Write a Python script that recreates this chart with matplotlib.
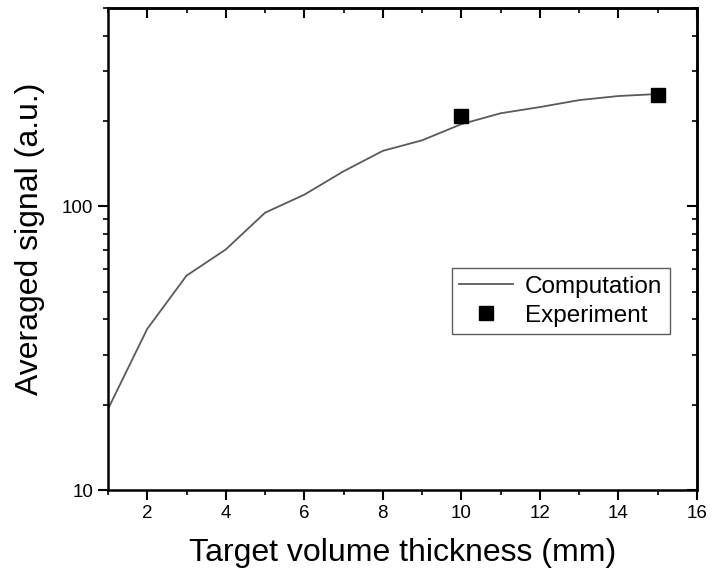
import matplotlib
matplotlib.use("Agg")
import matplotlib.pyplot as plt
from matplotlib.ticker import LogLocator, FixedLocator, NullFormatter, FuncFormatter

plt.rcParams['font.family'] = ['Liberation Sans', 'DejaVu Sans']

thickness = [1, 2, 3, 4, 5, 6, 7, 8, 9, 10, 11, 12, 13, 14, 15]
computation = [19.3, 37, 57, 70.5, 95, 110, 133, 157, 171, 195, 213, 224, 237, 245, 249]
exp_thickness = [10, 15]
experiment = [209, 248]

fig = plt.figure(figsize=(7.2, 5.83), dpi=100)
ax = fig.add_axes([0.15, 0.1595, 0.818, 0.8265])

ax.plot(thickness, computation, color='#5a5a5a', lw=1.3, label='Computation')
ax.plot(exp_thickness, experiment, 's', color='black', ms=9.5, ls='none', label='Experiment')

ax.set_yscale('log')
ax.set_xlim(1, 16)
ax.set_ylim(10, 500)

ax.xaxis.set_major_locator(FixedLocator([2, 4, 6, 8, 10, 12, 14, 16]))
ax.xaxis.set_minor_locator(FixedLocator([1, 3, 5, 7, 9, 11, 13, 15]))
ax.yaxis.set_major_locator(LogLocator(base=10, numticks=10))
ax.yaxis.set_minor_locator(LogLocator(base=10, subs=range(2, 10), numticks=20))
ax.yaxis.set_major_formatter(FuncFormatter(lambda v, p: f"{v:g}"))
ax.yaxis.set_minor_formatter(NullFormatter())

ax.tick_params(which='major', direction='out', length=7, width=1.5, labelsize=13.5)
ax.tick_params(which='minor', direction='out', length=3.5, width=1.2)
for s in ax.spines.values():
    s.set_linewidth(1.8)

# top and right ticks pointing inward
top = ax.secondary_xaxis('top')
top.xaxis.set_major_locator(FixedLocator([2, 4, 6, 8, 10, 12, 14, 16]))
top.xaxis.set_minor_locator(FixedLocator([1, 3, 5, 7, 9, 11, 13, 15]))
top.tick_params(which='major', direction='in', length=7, width=1.5, labeltop=False)
top.tick_params(which='minor', direction='in', length=3.5, width=1.2)
top.spines['top'].set_linewidth(1.8)

right = ax.secondary_yaxis('right')
right.yaxis.set_major_locator(LogLocator(base=10, numticks=10))
right.yaxis.set_minor_locator(LogLocator(base=10, subs=range(2, 10), numticks=20))
right.tick_params(which='major', direction='in', length=7, width=1.5, labelright=False)
right.tick_params(which='minor', direction='in', length=3.5, width=1.2, labelright=False)
right.yaxis.set_major_formatter(NullFormatter())
right.yaxis.set_minor_formatter(NullFormatter())
right.spines['right'].set_linewidth(1.8)

ax.set_xlabel('Target volume thickness (mm)', fontsize=23, labelpad=12)
ax.set_ylabel('Averaged signal (a.u.)', fontsize=23, labelpad=14)
ax.yaxis.set_label_coords(-0.107, 0.522)

leg = ax.legend(loc='upper left', bbox_to_anchor=(0.584, 0.46), borderaxespad=0,
                fontsize=17.5, frameon=True, fancybox=False, edgecolor='#333333',
                handlelength=2.2, handletextpad=0.5, borderpad=0.3, labelspacing=0.3)
leg.get_frame().set_linewidth(1.0)

fig.savefig('out.png', dpi=100)
